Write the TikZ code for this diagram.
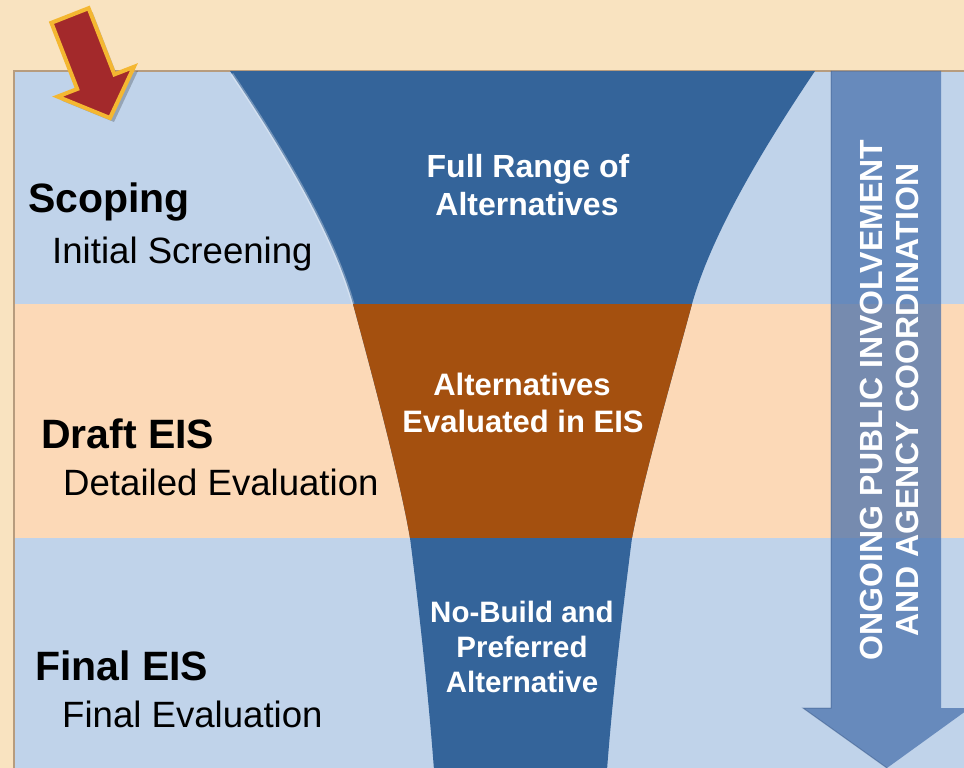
\documentclass[tikz,border=0pt]{standalone}
\usepackage{fontspec}
\setmainfont{Liberation Sans}
\definecolor{beige}{HTML}{F9E3C0}
\definecolor{bandblue}{HTML}{C0D3EA}
\definecolor{bandorange}{HTML}{FCD9B7}
\definecolor{funnelblue}{HTML}{34649A}
\definecolor{funnelorange}{HTML}{A4500F}
\definecolor{paneledge}{HTML}{B79C7E}
\definecolor{arrowblue}{HTML}{4A72AD}
\definecolor{arrowred}{HTML}{A3292B}
\definecolor{arrowgold}{HTML}{F4B731}
\begin{document}
\begin{tikzpicture}[x=1pt,y=-1pt,
  lefthead/.style={anchor=base west, inner sep=0pt, text=black, font=\fontsize{41}{45}\selectfont\bfseries},
  leftsub/.style={anchor=base west, inner sep=0pt, text=black, font=\fontsize{36.6}{40}\selectfont},
  funneltext/.style={anchor=base, inner sep=0pt, text=white, font=\fontsize{32}{36}\selectfont\bfseries},
  funnelsmall/.style={anchor=base, inner sep=0pt, text=white, font=\fontsize{29.5}{34}\selectfont\bfseries},
  sidetext/.style={anchor=base, inner sep=0pt, rotate=90, text=white, font=\fontsize{32}{36}\selectfont\bfseries}]
\useasboundingbox (0,0) rectangle (964,768);
% background and bands
\fill[beige] (0,0) rectangle (964,768);
\fill[bandblue] (14,71) rectangle (964,304);
\fill[bandorange] (14,304) rectangle (964,538);
\fill[bandblue] (14,538) rectangle (964,768);
\draw[paneledge, line width=1.5pt] (14,768) -- (14,71) -- (964,71);
% funnel
\begin{scope}
\clip (230,71) .. controls (290,160) and (335,240) .. (353,304)
  .. controls (375,385) and (400,480) .. (410,538)
  .. controls (418,600) and (428,690) .. (434,770)
  -- (607,770)
  .. controls (613,690) and (624,600) .. (632,538)
  .. controls (643,480) and (670,385) .. (692,304)
  .. controls (710,240) and (755,160) .. (815,71) -- cycle;
\fill[funnelblue] (200,71) rectangle (840,768);
\fill[funnelorange] (200,304) rectangle (840,538);
\end{scope}
\draw[white, opacity=0.3, line width=3pt] (232,74) .. controls (290,160) and (335,240) .. (353,304);
% right arrow
\fill[arrowblue, opacity=0.75] (831,71) -- (941,71) -- (941,708) -- (970,708) -- (887,768) -- (803,708) -- (831,708) -- cycle;
\draw[arrowblue!80!black, opacity=0.5, line width=1pt] (831,71) -- (831,708) -- (803,708) -- (887,768);
% red arrow with shadow
\fill[black, opacity=0.22] (55.4,26.8) -- (92.6,12.2) -- (118.4,78.4) -- (138,70.8) -- (114,122) -- (61.6,100.6) -- (81.2,93) -- cycle;
\filldraw[fill=arrowred, draw=arrowgold, line width=4pt, line join=miter]
  (51.4,22.8) -- (88.6,8.2) -- (114.4,74.4) -- (134,66.8) -- (110,118) -- (57.6,96.6) -- (77.2,89) -- cycle;
% left labels
\node[lefthead] (scoping) at (28,212) {Scoping};
\node[leftsub] (initial) at (52,263) {Initial Screening};
\node[lefthead] (draft) at (41,448) {Draft EIS};
\node[leftsub] (detailed) at (63,495) {Detailed Evaluation};
\node[lefthead] (final) at (35,680) {Final EIS};
\node[leftsub] (finaleval) at (62,727) {Final Evaluation};
% funnel labels
\node[funneltext] (full1) at (528,177) {Full Range of};
\node[funneltext] (full2) at (527,215) {Alternatives};
\node[funneltext, font=\fontsize{31}{35}\selectfont\bfseries] (eval1) at (522,395) {Alternatives};
\node[funneltext, font=\fontsize{31}{35}\selectfont\bfseries] (eval2) at (523,432) {Evaluated in EIS};
\node[funnelsmall] (nb1) at (522,622) {No-Build and};
\node[funnelsmall] (nb2) at (522,657) {Preferred};
\node[funnelsmall] (nb3) at (522,692) {Alternative};
% side labels
\node[sidetext] (side1) at (882,400) {ONGOING PUBLIC INVOLVEMENT};
\node[sidetext] (side2) at (918,400) {AND AGENCY COORDINATION};
\end{tikzpicture}
\end{document}
